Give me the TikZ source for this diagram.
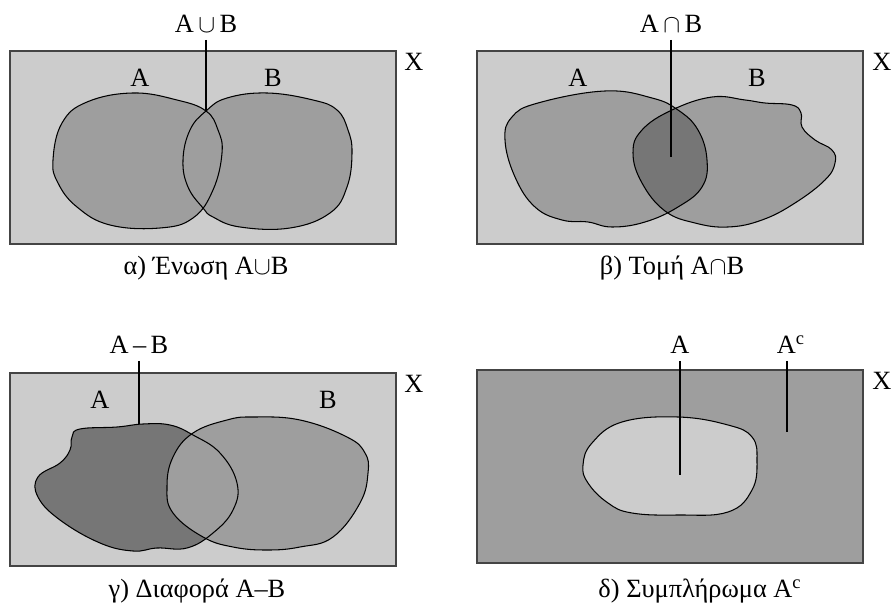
\documentclass[tikz,border=0pt]{standalone}
\usepackage{fontspec}
\setmainfont{Liberation Serif}
\definecolor{lightg}{HTML}{CCCCCC}
\definecolor{midg}{HTML}{9E9E9E}
\definecolor{darkg}{HTML}{767676}
\definecolor{frameg}{HTML}{444444}
\begin{document}
\begin{tikzpicture}[x=0.02cm,y=-0.02cm,
  frame/.style={draw=frameg,line width=0.9pt},
  blob/.style={draw=black,line width=0.6pt},
  lbl/.style={font=\fontsize{15}{17}\selectfont,inner sep=1pt},
  captxt/.style={font=\fontsize{15}{17}\selectfont,inner sep=1pt},
  ptr/.style={draw=black,line width=0.6pt}]
\useasboundingbox (0,0) rectangle (895,607);
\def\blobAa{plot[smooth cycle,tension=0.7] coordinates {(53,160) (62,123) (87,102) (133,93) (177,100) (206,111) (218,130) (222,153) (213,190) (193,218) (160,228) (110,225) (77,207) (58,183)}}
\def\blobBa{plot[smooth cycle,tension=0.7] coordinates {(183,160) (190,130) (206,111) (227,98) (267,93) (313,100) (337,110) (348,130) (352,153) (347,187) (330,213) (290,228) (240,227) (213,217) (203,208) (188,187)}}
\def\blobAb{plot[smooth cycle,tension=0.7] coordinates {(505,140) (512,117) (538,103) (605,91) (652,98) (678,110) (698,130) (707,160) (702,187) (678,207) (645,222) (612,227) (588,222) (562,220) (535,207) (515,177)}}
\def\blobBb{plot[smooth cycle,tension=0.7] coordinates {(633,153) (642,130) (672,110) (712,97) (745,100) (765,103) (792,105) (801,113) (802,127) (815,140) (832,150) (835,163) (825,180) (795,203) (762,220) (728,227) (695,223) (665,211) (642,183)}}
\def\blobAc{plot[smooth cycle,tension=0.7] coordinates {(72,437) (80,429) (117,427) (143,424) (170,425) (193,435) (220,453) (237,483) (233,510) (213,533) (187,548) (157,548) (133,551) (100,543) (60,520) (38,497) (38,477) (60,463) (70,450)}}
\def\blobBc{plot[smooth cycle,tension=0.7] coordinates {(167,487) (173,457) (193,433) (227,420) (253,417) (300,420) (347,437) (365,453) (368,473) (360,503) (333,537) (300,547) (267,550) (233,547) (203,537) (173,513)}}
\def\blobAd{plot[smooth cycle,tension=0.7] coordinates {(583,465) (592,443) (622,422) (678,417) (728,425) (752,437) (757,460) (752,490) (728,512) (678,515) (632,513) (608,503) (588,483)}}

% ---------- alpha: union ----------
\draw[frame,fill=lightg] (10,51) rectangle (396,244);
\fill[midg] \blobAa;
\fill[midg] \blobBa;
\draw[blob] \blobAa;
\draw[blob] \blobBa;
\node[lbl] (Xa) at (414,62) {X};
\node[lbl] (Aa) at (140,78) {A};
\node[lbl] (Ba) at (273,78) {B};
\node[lbl,anchor=south] (Ua) at (206,35) {A\,$\cup$\,B};
\coordinate (ua) at (206,111);
\draw[ptr] (Ua.south) ++(0,5) -- (ua);
\node[captxt] (ca) at (206,268) {α) Ένωση A$\cup$B};

% ---------- beta: intersection ----------
\draw[frame,fill=lightg] (477,51) rectangle (863,244);
\fill[midg] \blobAb;
\fill[midg] \blobBb;
\begin{scope}
  \clip \blobAb;
  \fill[darkg] \blobBb;
\end{scope}
\draw[blob] \blobAb;
\draw[blob] \blobBb;
\node[lbl] (Xb) at (882,62) {X};
\node[lbl] (Ab) at (578,78) {A};
\node[lbl] (Bb) at (757,78) {B};
\node[lbl,anchor=south] (Ib) at (671,35) {A\,$\cap$\,B};
\coordinate (ib) at (671,157);
\draw[ptr] (Ib.south) ++(0,5) -- (ib);
\node[captxt] (cb) at (672,268) {β) Τομή A$\cap$B};

% ---------- gamma: difference ----------
\draw[frame,fill=lightg] (10,373) rectangle (396,566);
\fill[darkg] \blobAc;
\fill[midg] \blobBc;
\draw[blob] \blobAc;
\draw[blob] \blobBc;
\node[lbl] (Xc) at (414,384) {X};
\node[lbl] (Ac) at (100,400) {A};
\node[lbl] (Bc) at (328,400) {B};
\node[lbl,anchor=south] (Dc) at (139,356) {A\,–\,B};
\coordinate (dc) at (139,424);
\draw[ptr] (Dc.south) ++(0,5) -- (dc);
\node[captxt] (cc) at (197,591) {γ) Διαφορά A–B};

% ---------- delta: complement ----------
\draw[frame,fill=midg] (477,370) rectangle (863,563);
\fill[lightg] \blobAd;
\draw[blob] \blobAd;
\node[lbl] (Xd) at (882,381) {X};
\node[lbl,anchor=south] (Ad) at (680,356) {A};
\node[lbl,anchor=south] (Acd) at (791,356) {A\textsuperscript{c}};
\coordinate (ad) at (680,475);
\coordinate (acd) at (787,432);
\draw[ptr] (Ad.south) ++(0,5) -- (ad);
\draw[ptr] (787,361) -- (acd);
\node[captxt] (cd) at (700,591) {δ) Συμπλήρωμα A\textsuperscript{c}};
\end{tikzpicture}
\end{document}
